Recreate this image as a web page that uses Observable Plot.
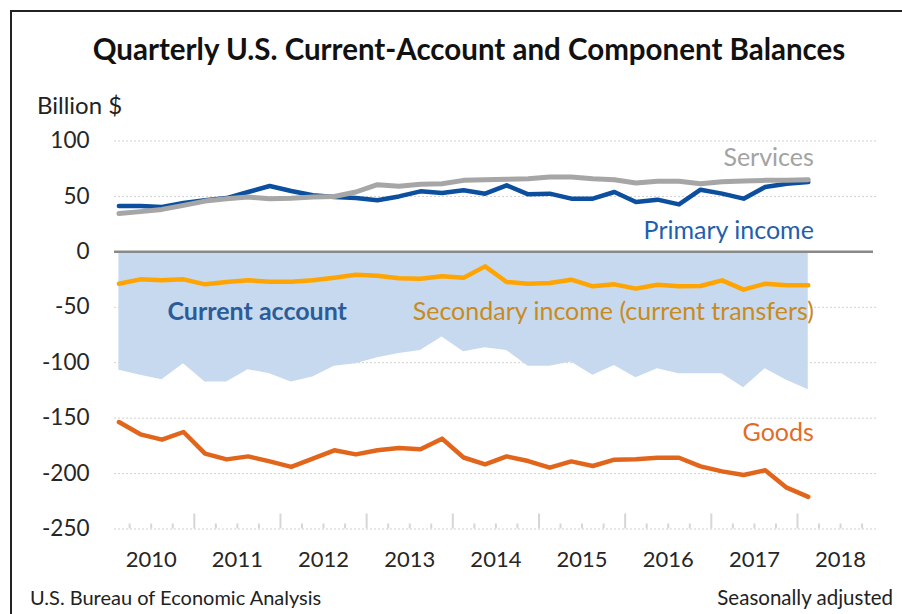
<!DOCTYPE html>
<html>
<head>
<meta charset="utf-8">
<script src="https://cdn.jsdelivr.net/npm/d3@7"></script>
<script src="https://cdn.jsdelivr.net/npm/@observablehq/plot@0.6"></script>
<style>
  html, body { margin: 0; padding: 0; background: #fff; }
  #wrap { position: relative; width: 902px; height: 614px; overflow: hidden; background: #fff; font-family: Lato, "Open Sans", sans-serif; }
  #frame { position: absolute; left: 10px; top: 10px; width: 1000px; height: 1000px; border-left: 2px solid #222; border-top: 2px solid #222; }
  #title { position: absolute; left: 0; width: 938px; top: 31px; text-align: center; font-weight: 700; font-size: 29.5px; line-height: 36px; color: #111; }
  #unit { position: absolute; left: 37px; top: 90px; font-size: 24px; line-height: 30px; color: #222; }
  #chart { position: absolute; left: 0; top: 0; }
  #source { position: absolute; left: 30px; top: 585px; font-family: "Liberation Sans Narrow", Lato, sans-serif; font-size: 20px; line-height: 25px; color: #222; }
  #adj { position: absolute; right: 9px; top: 585px; font-family: "Liberation Sans Narrow", Lato, sans-serif; font-size: 20.5px; line-height: 25px; color: #222; }
</style>
</head>
<body>
<div id="wrap">
  <div id="chart"></div>
  <div id="frame"></div>
  <div id="title">Quarterly U.S. Current-Account and Component Balances</div>
  <div id="unit">Billion $</div>
  <div id="source">U.S. Bureau of Economic Analysis</div>
  <div id="adj">Seasonally adjusted</div>
</div>
<script>
// ---- Data (billion $, seasonally adjusted), 2010Q1 .. 2018Q1 ----
const quarters = [
  "2010Q1","2010Q2","2010Q3","2010Q4","2011Q1","2011Q2","2011Q3","2011Q4",
  "2012Q1","2012Q2","2012Q3","2012Q4","2013Q1","2013Q2","2013Q3","2013Q4",
  "2014Q1","2014Q2","2014Q3","2014Q4","2015Q1","2015Q2","2015Q3","2015Q4",
  "2016Q1","2016Q2","2016Q3","2016Q4","2017Q1","2017Q2","2017Q3","2017Q4",
  "2018Q1"
];
const goods = [-153.5,-164.6,-169.4,-162.5,-182.0,-187.2,-184.5,-189.0,-194.0,-186.6,-179.0,-182.7,-179.0,-177.0,-178.0,-168.5,
               -185.5,-191.7,-184.5,-188.7,-194.7,-189.0,-193.2,-187.5,-187.0,-185.7,-185.7,-193.5,-198.0,-201.3,-197.0,-212.7,-221.0];
const services = [34.5,36.3,38.3,41.9,45.8,48.0,49.4,48.0,48.3,49.4,50.0,54.0,60.6,59.1,60.9,61.5,
                  64.5,65.1,65.4,66.0,67.5,67.5,66.0,65.1,62.1,63.6,63.6,61.5,63.3,63.9,64.5,64.5,65.1];
const primaryIncome = [41.3,41.3,40.4,44.0,46.5,48.5,54.0,59.4,54.9,51.0,49.4,48.5,46.5,50.0,54.6,53.0,
                       55.5,52.5,60.0,51.9,52.5,48.0,48.0,54.0,44.9,47.1,42.8,56.1,52.5,48.0,58.5,61.5,63.0];
const secondaryIncome = [-28.7,-24.8,-25.7,-24.8,-29.3,-27.2,-25.7,-26.9,-26.9,-25.7,-23.3,-20.6,-21.5,-23.9,-24.2,-22.1,
                         -23.3,-13.1,-27.2,-28.7,-28.1,-25.1,-31.1,-29.3,-33.2,-29.6,-31.1,-30.8,-25.7,-34.1,-28.7,-30.2,-30.2];
const currentAccount = [-106.9,-111.4,-115.3,-100.9,-117.4,-117.4,-106.3,-109.9,-117.4,-112.9,-103.3,-100.9,-95.5,-91.8,-88.9,-76.8,
                        -90.0,-86.4,-88.9,-103.3,-103.3,-99.4,-111.4,-102.4,-113.5,-105.4,-109.9,-109.9,-109.9,-122.5,-105.4,-115.9,-124.3];

const yearLabels = ["2010","2011","2012","2013","2014","2015","2016","2017","2018"];
const yTicks = [100, 50, 0, -50, -100, -150, -200, -250];

// Series label anchors (in data units: fractional year, billion $)
const seriesLabels = [
  {text: "Services", x: 2018.19, y: 85, color: "#a3a3a3"},
  {text: "Primary income", x: 2018.19, y: 19, color: "#1f5fad"},
  {text: "Secondary income (current transfers)", x: 2018.19, y: -54, color: "#c98a1e"},
  {text: "Goods", x: 2018.19, y: -163, color: "#e36c25"}
];
const centerLabel = {text: "Current account", x: 2011.73, y: -54, color: "#2c5c97"};

// ---- Build table ----
const qTime = q => +q.slice(0, 4) + (+q.slice(5) - 0.5) / 4;
const rows = quarters.map((q, i) => ({
  t: qTime(q),
  goods: goods[i],
  services: services[i],
  primary: primaryIncome[i],
  secondary: secondaryIncome[i],
  current: currentAccount[i]
}));

const years = yearLabels.map(Number);
const majorTicks = years.slice(1);
const minorTicks = [];
years.forEach(y => [0.25, 0.5, 0.75].forEach(f => minorTicks.push(y + f)));

const W = 902, H = 614, mTop = 140.5, mBottom = 85.5, mLeft = 114, mRight = 26;
const plotH = H - mTop - mBottom;

const lineStyle = {strokeLinejoin: "round", strokeLinecap: "round"};

const chart = Plot.plot({
  width: W,
  height: H,
  marginTop: mTop,
  marginBottom: mBottom,
  marginLeft: mLeft,
  marginRight: mRight,
  style: {fontFamily: "Lato, 'Open Sans', sans-serif", fontSize: "22px", color: "#262626", background: "transparent", overflow: "visible"},
  x: {domain: [2010.074, 2018.917], axis: null},
  y: {domain: [-250, 100], axis: null},
  marks: [
    Plot.ruleY(yTicks.filter(v => v !== 0), {y: d => d, stroke: "#d0d0d0", strokeWidth: 1, strokeDasharray: "2,2"}),
    Plot.areaY(rows, {x: "t", y1: 0, y2: "current", fill: "#c6d9ee"}),
    Plot.ruleY([0], {stroke: "#898989", strokeWidth: 2.5, insetRight: 3}),
    Plot.tickX(minorTicks, {x: d => d, stroke: "#d6d6d6", strokeWidth: 2, insetTop: plotH - 5}),
    Plot.tickX(majorTicks, {x: d => d, stroke: "#d6d6d6", strokeWidth: 2, insetTop: plotH - 15}),
    Plot.lineY(rows, {x: "t", y: "primary", stroke: "#0c4f9e", strokeWidth: 4.5, ...lineStyle}),
    Plot.lineY(rows, {x: "t", y: "services", stroke: "#a6a6a6", strokeWidth: 5, ...lineStyle}),
    Plot.lineY(rows, {x: "t", y: "secondary", stroke: "#ffa400", strokeWidth: 4.5, ...lineStyle}),
    Plot.lineY(rows, {x: "t", y: "goods", stroke: "#e1661c", strokeWidth: 4.5, ...lineStyle}),
    ...seriesLabels.map(d => Plot.text([d], {x: "x", y: "y", text: "text", fill: d.color, textAnchor: "end", lineAnchor: "middle", fontSize: 25})),
    Plot.text([centerLabel], {x: "x", y: "y", text: "text", fill: centerLabel.color, textAnchor: "middle", lineAnchor: "middle", fontSize: 25, fontWeight: "bold"}),
    Plot.text(yTicks, {y: d => d, text: d => String(d), frameAnchor: "left", textAnchor: "end", dx: -25, lineAnchor: "middle", fill: "#262626", fontSize: 22.5}),
    Plot.text(yearLabels, {x: d => +d + 0.5, text: d => d, frameAnchor: "bottom", lineAnchor: "middle", dy: 31, fill: "#262626", fontSize: 22})
  ]
});
document.getElementById("chart").appendChild(chart);
</script>
</body>
</html>
